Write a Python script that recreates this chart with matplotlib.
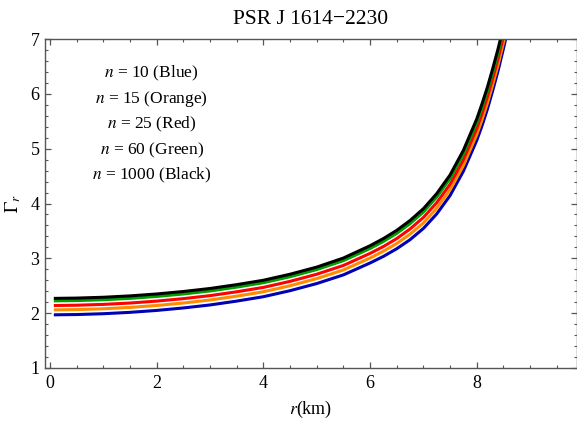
import matplotlib
matplotlib.use("Agg")
import matplotlib.pyplot as plt
from matplotlib.ticker import MultipleLocator

plt.rcParams['font.family'] = ['Liberation Serif', 'DejaVu Serif']
plt.rcParams['mathtext.fontset'] = 'stix'

# Data (r in km, Gamma_r values)
r_km = [0.1, 0.5, 1, 1.5, 2, 2.5, 3, 3.5, 4, 4.5, 5, 5.5, 6, 6.25, 6.5, 6.75,
        7, 7.25, 7.5, 7.75, 8.0, 8.1, 8.2, 8.3, 8.4, 8.5, 8.6, 8.7]
gamma_n10 = [1.97, 1.975, 1.99, 2.015, 2.05, 2.095, 2.15, 2.22, 2.30, 2.41, 2.54,
             2.698, 2.915, 3.035, 3.175, 3.34, 3.545, 3.81, 4.145, 4.59, 5.15,
             5.42, 5.72, 6.06, 6.42, 6.82, 7.24, 7.70]
gamma_n15 = [2.06, 2.065, 2.08, 2.105, 2.14, 2.185, 2.24, 2.31, 2.39, 2.50, 2.63,
             2.788, 3.005, 3.13, 3.27, 3.44, 3.645, 3.915, 4.25, 4.692, 5.256,
             5.53, 5.83, 6.17, 6.53, 6.93, 7.35, 7.81]
gamma_n25 = [2.14, 2.145, 2.16, 2.185, 2.22, 2.265, 2.32, 2.39, 2.47, 2.58, 2.71,
             2.87, 3.09, 3.215, 3.36, 3.535, 3.745, 4.015, 4.35, 4.797, 5.364,
             5.64, 5.94, 6.28, 6.64, 7.04, 7.46, 7.92]
gamma_n60 = [2.225, 2.23, 2.245, 2.27, 2.305, 2.35, 2.405, 2.475, 2.555, 2.665, 2.795,
             2.958, 3.18, 3.308, 3.455, 3.633, 3.845, 4.118, 4.456, 4.904, 5.472,
             5.75, 6.05, 6.39, 6.75, 7.15, 7.57, 8.03]
gamma_n1000 = [2.27, 2.275, 2.29, 2.315, 2.35, 2.395, 2.45, 2.52, 2.60, 2.71, 2.84,
               3.005, 3.23, 3.36, 3.51, 3.69, 3.905, 4.18, 4.52, 4.97, 5.54,
               5.82, 6.12, 6.46, 6.82, 7.22, 7.64, 8.10]

series = [gamma_n10, gamma_n15, gamma_n25, gamma_n60, gamma_n1000]
colors = ['#0000b4', '#ff8c00', '#ff0000', '#009e00', '#000000']
labels = ['$n$ = 10 (Blue)', '$n$ = 15 (Orange)', '$n$ = 25 (Red)',
          '$n$ = 60 (Green)', '$n$ = 1000 (Black)']
label_y = [6.375, 5.90, 5.45, 4.975, 4.52]

fig = plt.figure(figsize=(5.77, 4.24), dpi=100)
ax = fig.add_axes([45/577, 1-368/424, 1-45/577, (368-39)/424])

for vals, c in zip(series, colors):
    ax.plot(r_km, vals, color=c, lw=2.2, solid_joinstyle='round')

ax.set_xlim(-0.094, 9.88)
ax.set_ylim(1, 7)

for txt, yy in zip(labels, label_y):
    ax.text(1.905, yy, txt, ha='center', va='center', fontsize=12.5)

ax.set_title('PSR J 1614\u22122230', fontsize=15.5, pad=11)
ax.set_xlabel('$r$(km)', fontsize=13, labelpad=5)
ax.set_ylabel(r'$\Gamma_r$', fontsize=13.5, labelpad=5)

ax.xaxis.set_major_locator(MultipleLocator(2))
ax.xaxis.set_minor_locator(MultipleLocator(0.5))
ax.yaxis.set_major_locator(MultipleLocator(1))
ax.yaxis.set_minor_locator(MultipleLocator(0.2))

frame_col = '#555555'
for s in ax.spines.values():
    s.set_color(frame_col)
    s.set_linewidth(1.0)
ax.tick_params(which='both', direction='in', top=True, right=True,
               color=frame_col, labelsize=13)
ax.tick_params(which='major', length=4.5, width=0.9)
ax.tick_params(which='minor', length=2.5, width=0.8)
ax.tick_params(axis='x', pad=5)
ax.tick_params(axis='y', pad=4)

fig.savefig('out.png', dpi=100)
